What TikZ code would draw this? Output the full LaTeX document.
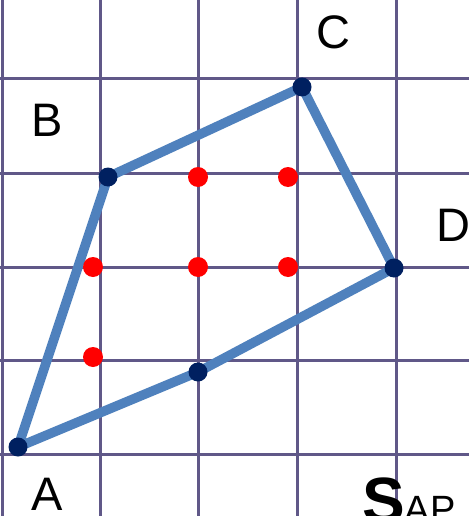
\documentclass[tikz,border=0pt]{standalone}
\usepackage{fontspec}
\setmainfont{Liberation Sans}
\usepackage{xcolor}
\usetikzlibrary{positioning}

\definecolor{gridline}{RGB}{96,88,136}
\definecolor{edgeblue}{RGB}{79,129,189}
\definecolor{vertexnavy}{RGB}{0,32,96}
\definecolor{latticered}{RGB}{255,0,0}

\begin{document}
\begin{tikzpicture}[
  x=1pt, y=-1pt,
  gridl/.style={gridline, line width=3pt},
  edge/.style={edgeblue, line width=9.5pt, line join=round, line cap=round},
  vertex/.style={fill=vertexnavy},
  latt/.style={fill=latticered},
  lbl/.style={inner sep=0pt, font=\fontsize{47}{50}\selectfont}
]
\useasboundingbox (0,0) rectangle (469,516);
\fill[white] (0,0) rectangle (469,516);

% grid
\foreach \gx in {2,100,198,297,396}
  \draw[gridl] (\gx,0) -- (\gx,516);
\foreach \gy in {79,173,267,360,454}
  \draw[gridl] (0,\gy) -- (469,\gy);

% vertices
\coordinate (A) at (18,447);
\coordinate (B) at (108,177);
\coordinate (C) at (302,87);
\coordinate (D) at (394,268);
\coordinate (E) at (198,372);

\draw[edge] (A) -- (B) -- (C) -- (D) -- (E) -- cycle;

% interior lattice points
\foreach \px/\py in {198/177, 288/177, 93/267, 198/267, 288/267, 93/357}
  \fill[latt] (\px,\py) circle (10pt);

\foreach \v in {A,B,C,D,E}
  \fill[vertex] (\v) circle (9.5pt);

% labels
\node[lbl] (labA) at (47,494) {A};
\node[lbl] (labB) at (47,120) {B};
\node[lbl] (labC) at (333,32) {C};
\node[lbl, anchor=west] (labD) at (436,225) {D};
\node[inner sep=0pt, anchor=north west] (area) at (362,478)
  {\fontsize{64}{70}\selectfont\bfseries S\fontsize{38}{40}\selectfont\mdseries AP};
\end{tikzpicture}
\end{document}
